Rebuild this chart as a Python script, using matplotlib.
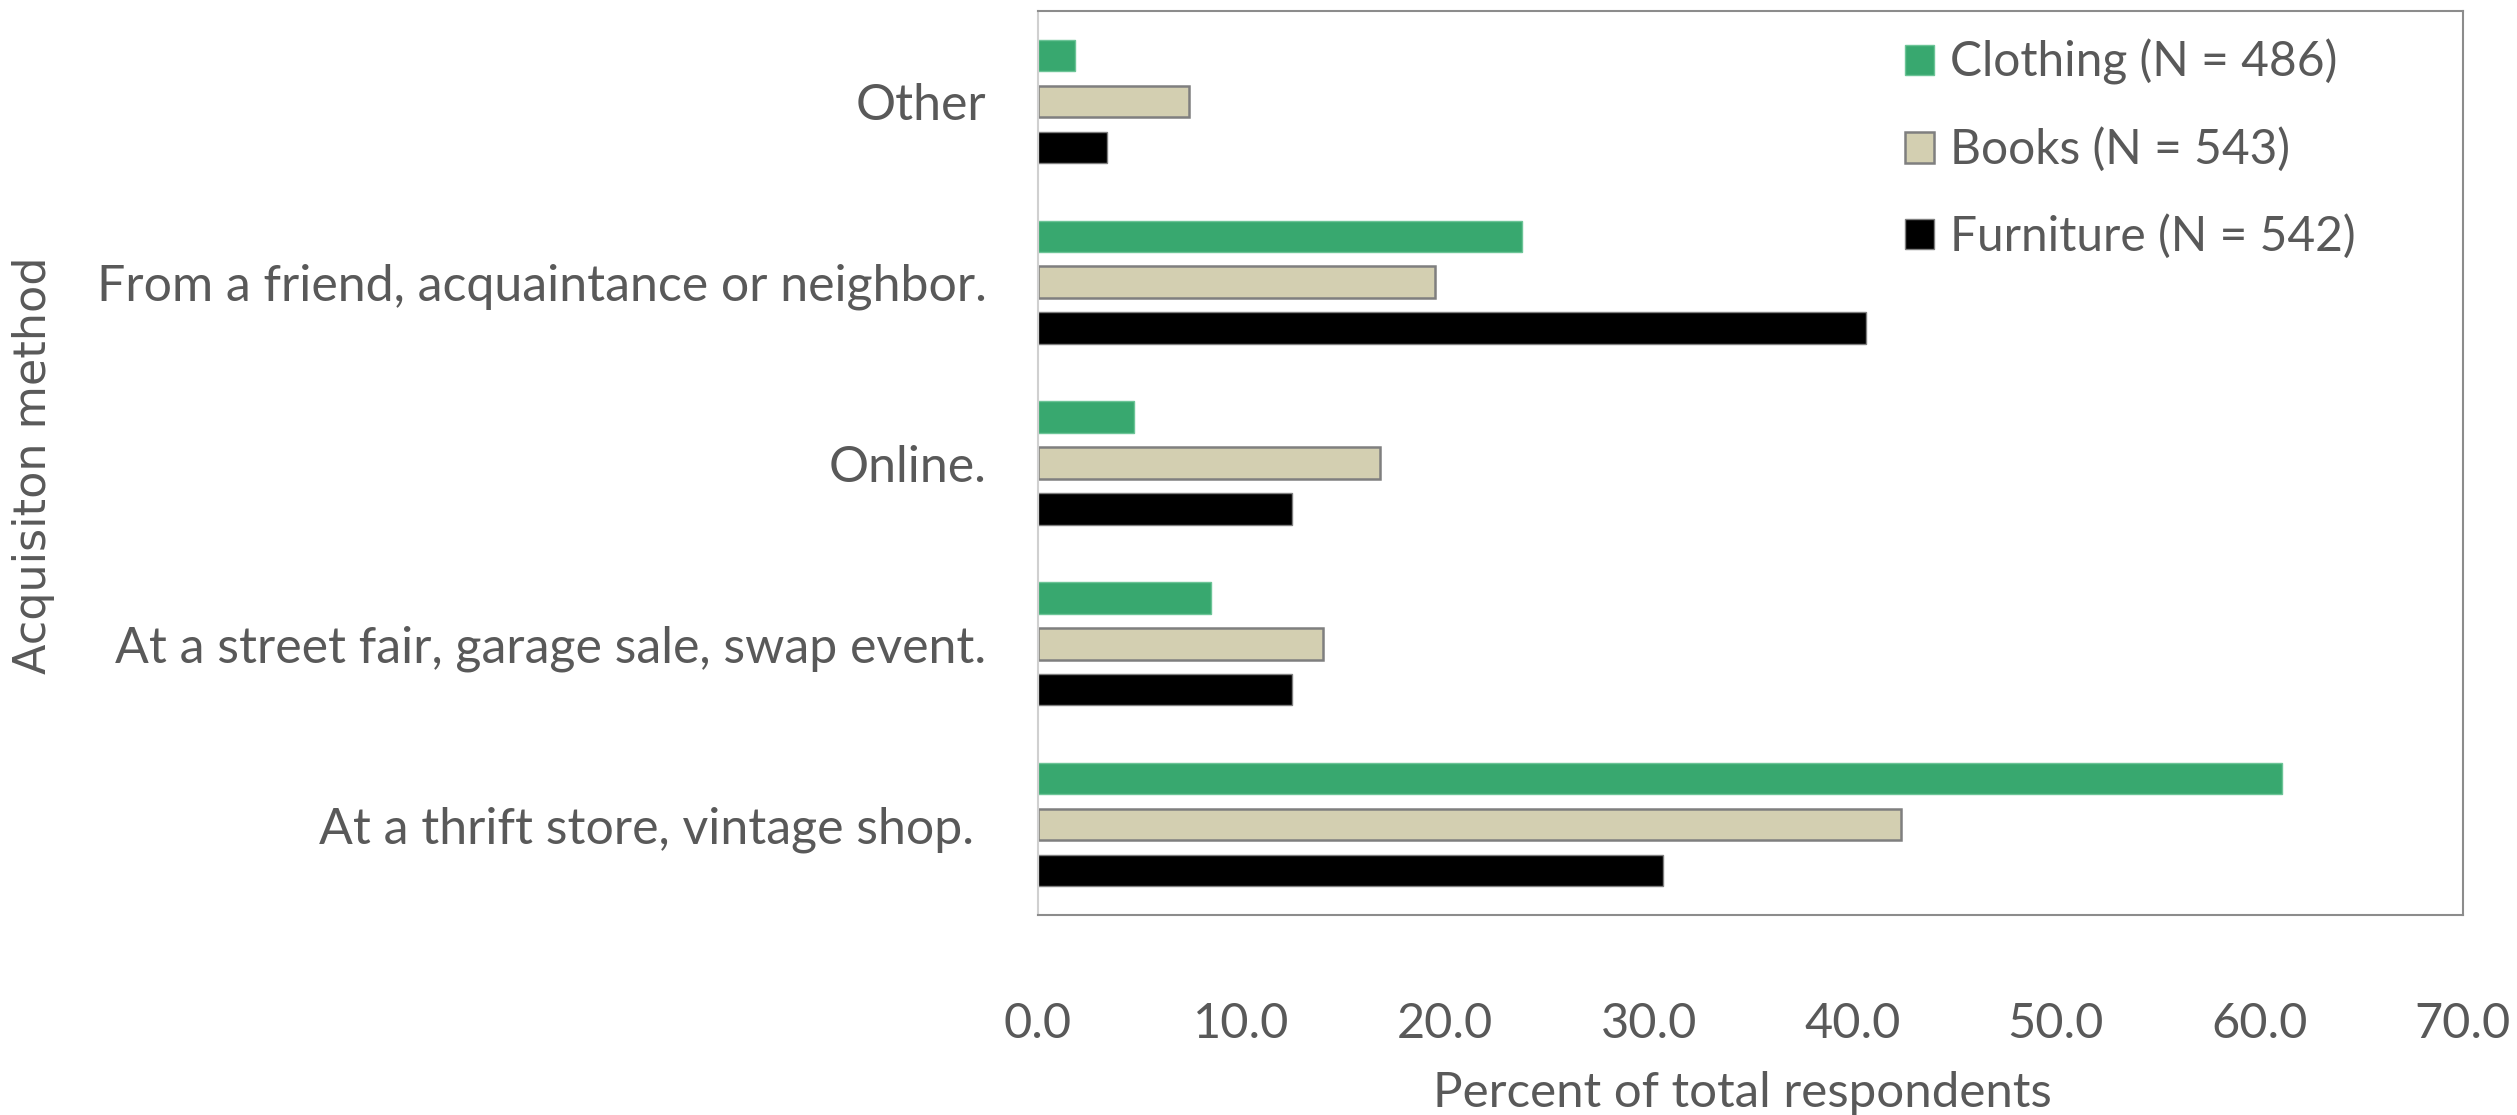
import matplotlib
matplotlib.use("Agg")
import matplotlib.pyplot as plt
import numpy as np

#-------data-------
methods = ["At a thrift store, vintage shop. ",
           "At a street fair, garage sale, swap event.",
           "Online.",
           "From a friend, acquaintance or neighbor.",
           "Other"]
clothing  = [61.1, 8.5, 4.7, 23.8, 1.8]
books     = [42.4, 14.0, 16.8, 19.5, 7.4]
furniture = [30.7, 12.5, 12.5, 40.7, 3.4]
series_labels = ["Clothing (N = 486)", "Books (N = 543)", "Furniture (N = 542)"]
xticks = [0, 10, 20, 30, 40, 50, 60, 70]

#-------style-------
textcol = "#595959"
green = "#38A86F"
beige = "#D3CFB1"
plt.rcParams["font.family"] = ["Lato", "DejaVu Sans"]

fig = plt.figure(figsize=(25.17, 11.15), dpi=100)
ax = fig.add_axes([0.4124, 0.1794, 0.5661, 0.8107])

y = np.arange(len(methods))
step = 0.254
h = 0.174
ax.barh(y + step, clothing, height=h, color=green, edgecolor="#6CC497",
        linewidth=1.0, label=series_labels[0])
ax.barh(y, books, height=h, color=beige, edgecolor="#7F7F7F",
        linewidth=1.8, label=series_labels[1])
ax.barh(y - step, furniture, height=h, color="black", edgecolor="#7F7F7F",
        linewidth=1.0, label=series_labels[2])

ax.set_xlim(0, 70)
ax.set_ylim(-0.5, len(methods) - 0.5)
ax.set_xticks(xticks)
ax.set_xticklabels(["%.1f" % t for t in xticks], fontsize=35, color=textcol)
ax.set_yticks(y)
ax.set_yticklabels(methods, fontsize=36, color=textcol)
ax.tick_params(axis="x", length=0, pad=63)
ax.tick_params(axis="y", length=0, pad=37)

# plot area border
for side in ["top", "right", "bottom"]:
    ax.spines[side].set_color("#8C8C8C")
    ax.spines[side].set_linewidth(1.5)
ax.spines["left"].set_color("#D0D0D0")
ax.spines["left"].set_linewidth(1.5)

ax.set_xlabel("Percent of total respondents", fontsize=35.5, color=textcol)
ax.xaxis.set_label_coords(0.494, -0.173)
ax.set_ylabel("Acquisiton method", fontsize=32, color=textcol,
              family="DejaVu Sans")
ax.yaxis.set_label_coords(-0.69, 0.498)

leg = ax.legend(loc="upper left", bbox_to_anchor=(0.6084, 0.969),
                frameon=False, fontsize=34.5, borderpad=0, borderaxespad=0,
                handlelength=0.6, handleheight=0.6, handletextpad=0.35,
                labelspacing=0.88)
for t in leg.get_texts():
    t.set_color(textcol)

fig.savefig("out.png", dpi=100)
